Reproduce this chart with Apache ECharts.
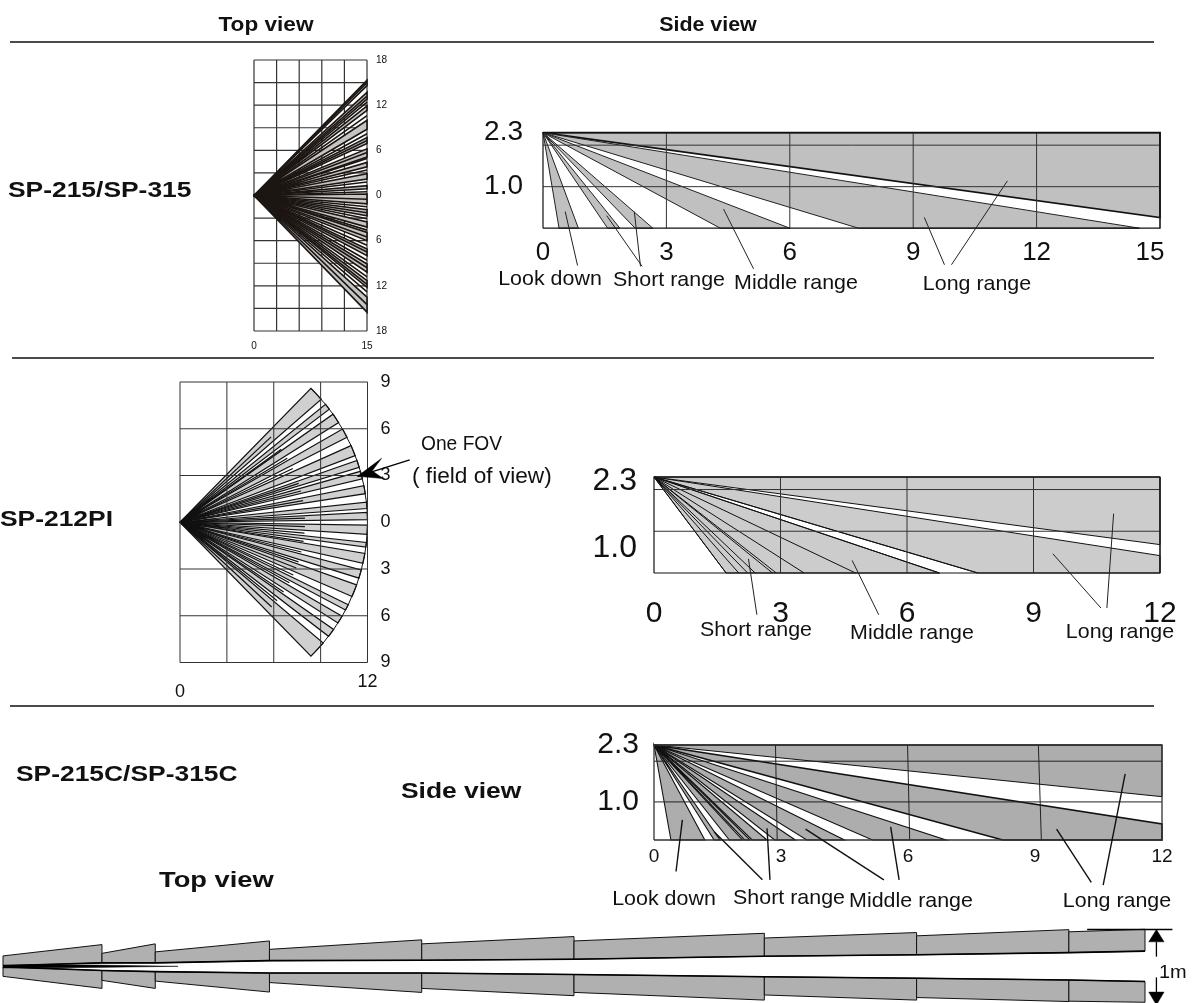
<!DOCTYPE html>
<html><head><meta charset="utf-8">
<style>html,body{margin:0;padding:0;background:#fff}#c{width:1200px;height:1003px}</style>
<script src="https://cdn.jsdelivr.net/npm/echarts@6/dist/echarts.min.js"></script>
</head><body><div id="c"></div>
<script>
// ---------- data (metres) ----------
// SP-215 top view: gray beams, y-range where each hits x = 15
var fanTop215 = [[15.3,14.6],[13.7,12.8],[11.9,11.3],[10,8.8],[7.7,6.9],[6.2,5.1],[4.4,3.8],[2.9,2.2],[1.3,0.9],[0.2,-1.1],[-1.9,-2.7],[-3.5,-4.2],[-4.9,-6],[-7.1,-8],[-9.1,-10.2],[-11.3,-12.2],[-13.5,-15.5]];
var fanRays215 = [15,13.2,12.4,10.6,8.2,7.3,5.7,4.9,3.4,1.8,0.5,-0.5,-1.5,-2.3,-3.1,-4.6,-5.5,-6.6,-7.5,-8.6,-9.6,-10.8,-11.8,-12.8,-14.5];
var fanRayReach215 = 15;
var fanCore215 = [[0,0],[3.5,3.55],[3.5,-3.6]];
// SP-215 side view: floor hits and far-wall hits
var side215Floor = [[0.39,0.86],[1.57,1.87],[2.24,2.67],[4.31,6.0],[7.67,14.5]];
var side215Wall = [[0.256,2.3]];
// SP-212PI top view: gray wedges, angles in degrees
var fan212 = [[45.7,41.1],[39.1,37.2],[35.3,32.2],[29.9,27],[24.2,20.9],[19.3,17.1],[15.8,13.4],[11.3,8.8],[6.2,4.2],[3,0.8],[-0.9,-3.7],[-6.2,-7.6],[-9.6,-12.7],[-14.8,-17.4],[-19.6,-23.4],[-26.2,-28],[-30.2,-32.6],[-35,-37.6],[-40.2,-45.7]];
var fan212Rays = [43.2,35.9,30.9,25.5,18.2,14.5,10,1.9,-2,-5,-8.8,-13.8,-18.5,-21.5,-25,-29,-34,-39,-42.8];
var fan212RayReach = 8;
// SP-212PI side view
var side212Rays = [1.71,2.01,2.22,2.40,2.81,2.90,3.56,4.78,6.77,7.68];
var side212Band = [1.71,6.77];
var side212Long = [7.68,0.416];
var side212Wall = [0.68,2.3];
// SP-215C side view
var side215CFloor = [[0.40,1.20],[1.42,1.56],[1.78,2.09],[2.14,2.27],[2.32,2.67],[2.85,3.34],[3.61,4.50],[5.16,6.90]];
var side215CLong = [8.24,0.495];
var side215CWall = [1.12,2.3];
var side215CFloorY = 0.13;
// SP-215C top view beams
var beamX = [0,1.3,2.0,3.5,5.5,7.5,10,12,14,15];
var upperInner = [0.01,0.05,0.05,0.08,0.085,0.10,0.14,0.16,0.19,0.21];
var upperOuterStart = [0.145,0.18,0.20,0.235,0.31,0.35,0.39,0.42,0.475];
var upperOuterEnd = [0.30,0.31,0.35,0.365,0.41,0.455,0.465,0.505,0.51];
var lowerInner = [-0.005,-0.055,-0.07,-0.09,-0.09,-0.11,-0.14,-0.16,-0.185,-0.205];
var lowerOuterStart = [-0.135,-0.19,-0.20,-0.22,-0.30,-0.355,-0.39,-0.425,-0.475];
var lowerOuterEnd = [-0.30,-0.30,-0.35,-0.355,-0.40,-0.46,-0.46,-0.48,-0.49];
var beamCore = [[0,0.02],[1.2,0.02],[2.3,0.002],[1.2,-0.012],[0,-0.02]];
// leader lines
var leaders215 = [[[0.54,0.4],[0.84,-0.9]],[[1.55,0.3],[2.41,-0.92]],[[2.22,0.4],[2.37,-0.92]],[[4.39,0.46],[5.12,-0.98]],[[9.27,0.26],[9.76,-0.88]],[[11.29,1.14],[9.93,-0.88]]];
var leaders212 = [[[2.24,0.34],[2.44,-1.0]],[[4.7,0.3],[5.33,-1.0]],[[9.46,0.46],[10.6,-0.84]],[[10.9,1.42],[10.74,-0.84]]];
var leaders215C = [[[0.67,0.59],[0.52,-0.59]],[[1.42,0.32],[2.56,-0.78]],[[2.67,0.4],[2.74,-0.78]],[[3.58,0.38],[5.43,-0.78]],[[5.59,0.43],[5.79,-0.78]],[[9.51,0.38],[10.33,-0.84]],[[11.13,1.64],[10.61,-0.9]]];
var slantVerticals215C = [[2.87,2.91],[5.99,6.04],[9.08,9.15]];
var fovArrowLine = [[14.7,4.0],[11.36,2.95]];
var fovArrowHead = [[11.36,2.95],[12.9,4.1],[12.3,3.3],[13.0,2.8]];
var dimTick = [[14.24,0.507],[15.36,0.507]];
var dimUpStem = [[15.15,0.338],[15.15,0.135]];
var dimUpHead = [[15.15,0.507],[15.05,0.338],[15.25,0.338]];
var dimDownStem = [[15.15,-0.149],[15.15,-0.351]];
var dimDownHead = [[15.15,-0.527],[15.05,-0.351],[15.25,-0.351]];
// axis ticks
var ticks215TopY = [-18,-15,-12,-9,-6,-3,0,3,6,9,12,15,18];
var ticks215TopX = [0,3,6,9,12,15];
var ticks212TopY = [-9,-6,-3,3,6,9];
var ticks212TopX = [0,3,6,9,12];
var sideHeights = [1,2,2.3];
var sideHeights215C = [1,1.93,2.3];
var sideLabels = [1,2.3];
var ticksX15 = [3,6,9,12,15];
var ticksX12 = [3,6,9,12];

// ---------- helpers ----------
var FONT = '"Liberation Sans", Arial, sans-serif';
var apexSide = 2.3;
function shapes(grid, name, list, fill, stroke, lw, closed, z) {
  return {
    type:'custom', name:name, coordinateSystem:'cartesian2d', xAxisIndex:grid, yAxisIndex:grid,
    clip:false, silent:true, animation:false, z:z||2,
    encode:{x:0,y:1}, data:list.map(function(p){return [p[0][0],p[0][1]];}),
    renderItem:function(params,api){
      var pts = list[params.dataIndex].map(function(q){return api.coord(q);});
      return {type: closed?'polygon':'polyline', shape:{points:pts},
        style:{fill: closed?fill:null, stroke:stroke, lineWidth:lw}, silent:true};
    }
  };
}
function hLines(x0,x1,ys){return ys.map(function(y){return [[x0,y],[x1,y]];});}
function vLines(y0,y1,xs){return xs.map(function(x){return [[x,y0],[x,y1]];});}
function box(x0,x1,y0,y1){return [[[x0,y0],[x1,y0],[x1,y1],[x0,y1],[x0,y0]]];}
function floorPolys(floor,yf){return floor.map(function(h){return [[0,apexSide],[h[0],yf],[h[1],yf]];});}
function polar(a,r){var t=a*Math.PI/180;return [r*Math.cos(t),r*Math.sin(t)];}

function axis(grid,type,min,max,interval,label,extra){
  var o={type:'value',gridIndex:grid,min:min,max:max,axisLine:{show:false},axisTick:{show:false},splitLine:{show:false},
    axisLabel:Object.assign({fontFamily:FONT,color:'#111',hideOverlap:false,showMinLabel:true,showMaxLabel:true},label)};
  if(interval) o.interval=interval;
  return Object.assign(o,extra||{});
}
var abs=function(v){return String(Math.abs(v));};
var fix1=function(v){return v.toFixed(1);};

var option={
  animation:false, backgroundColor:'#fff',
  grid:[
    {left:254,top:60,width:113,height:271},
    {left:543,top:132.7,width:617,height:95.5},
    {left:180,top:382,width:187.5,height:280.5},
    {left:654,top:477,width:506,height:96},
    {left:654,top:745,width:508,height:95},
    {left:3,top:930,width:1142,height:74}
  ],
  xAxis:[
    axis(0,'x',0,15,15,{fontSize:10,margin:10}),
    axis(1,'x',0,15,3,{fontSize:26,margin:12,formatter:function(v){return v===15?'{r|15}':String(v);},rich:{r:{fontSize:26,fontFamily:FONT,color:'#111',padding:[0,20,0,0]}}}),
    axis(2,'x',0,12,12,{fontSize:18,margin:11,formatter:function(v){return v===0?'{d|0}':String(v);},rich:{d:{fontSize:18,fontFamily:FONT,color:'#111',padding:[10,0,0,0]}}}),
    axis(3,'x',0,12,3,{fontSize:30,margin:26}),
    axis(4,'x',0,12,3,{fontSize:19,margin:7}),
    axis(5,'x',0,15,15,{show:false})
  ],
  yAxis:[
    axis(0,'y',-18,18,6,{fontSize:10,margin:9,padding:[3,0,0,0],formatter:abs},{position:'right'}),
    axis(1,'y',0,2.3,0,{fontSize:28,margin:20,formatter:fix1,customValues:sideLabels}),
    axis(2,'y',-9,9,3,{fontSize:18,margin:13,padding:[11,0,0,0],formatter:abs},{position:'right'}),
    axis(3,'y',0,2.3,0,{fontSize:32,margin:17,formatter:function(v){return v===1?'{l|1.0}':'{t|2.3}';},customValues:sideLabels,
      rich:{l:{fontSize:32,fontFamily:FONT,color:'#111',padding:[34,0,0,0]},t:{fontSize:32,fontFamily:FONT,color:'#111',padding:[8,0,0,0]}}}),
    axis(4,'y',side215CFloorY,2.3,0,{fontSize:30,margin:15,formatter:fix1,customValues:sideLabels}),
    axis(5,'y',-0.5,0.5,1,{show:false})
  ],
  series:[],
  graphic:{elements:[]}
};
var S=option.series;

// ---- SP-215 top view
S.push(shapes(0,'grid215top',hLines(0,15,ticks215TopY).concat(vLines(-18,18,ticks215TopX)),null,'#333',1.2,false,1));
S.push(shapes(0,'fan215',fanTop215.map(function(w){return [[0,0],[15,w[0]],[15,w[1]]];}),'#c4c4c4','#1c1613',1.6,true,2));
S.push(shapes(0,'rays215',fanRays215.map(function(y){return [[0,0],[fanRayReach215,y*fanRayReach215/15]];}),null,'#1c1613',1.6,false,3));
S.push(shapes(0,'core215',[fanCore215],'#1c1613','#1c1613',1,true,3));

// ---- SP-215 side view
S.push(shapes(1,'long215wall',side215Wall.map(function(w){return [[0,apexSide],[15,w[0]],[15,w[1]]];}),'#c0c0c0','#111',1.8,true,2));
S.push(shapes(1,'beams215',floorPolys(side215Floor,0),'#c0c0c0','#222',1,true,2));
S.push(shapes(1,'grid215side',hLines(0,15,sideHeights).concat(vLines(0,2.3,ticksX15)),null,'#333',1,false,3));
S.push(shapes(1,'box215',box(0,15,0,2.3),null,'#111',1.2,false,4));
S.push(shapes(1,'leaders215',leaders215,null,'#222',1,false,5));

// ---- SP-212PI top view
S.push(shapes(2,'fan212',fan212.map(function(w){
  var pts=[[0,0]],i; for(i=0;i<=3;i++){pts.push(polar(w[0]+(w[1]-w[0])*i/3,12));} return pts;
}),'#d0d0d0','#111',1.2,true,2));
S.push(shapes(2,'rays212',fan212Rays.map(function(a){return [[0,0],polar(a,fan212RayReach)];}),null,'#111',1.2,false,3));
S.push(shapes(2,'rim212',[fan212.map(function(w){return polar(w[0],12);}).concat([polar(fan212[fan212.length-1][1],12)])],null,'#111',1,false,3));
S.push(shapes(2,'grid212top',hLines(0,12,ticks212TopY).concat(vLines(-9,9,ticks212TopX)),null,'#333',1,false,4));
S.push(shapes(2,'fovLine',[fovArrowLine],null,'#000',1.3,false,5));
S.push(shapes(2,'fovHead',[fovArrowHead],'#000','#000',0.5,true,5));

// ---- SP-212PI side view
S.push(shapes(3,'band212',[[[0,apexSide],[side212Band[0],0],[side212Band[1],0]]],'#cccccc','#111',1,true,2));
S.push(shapes(3,'long212',[[[0,apexSide],[side212Long[0],0],[12,0],[12,side212Long[1]]]],'#cccccc','#111',1,true,2));
S.push(shapes(3,'wall212',[[[0,apexSide],[12,side212Wall[0]],[12,side212Wall[1]]]],'#cccccc','#111',1,true,2));
S.push(shapes(3,'rays212side',side212Rays.map(function(x){return [[0,apexSide],[x,0]];}),null,'#111',1,false,3));
S.push(shapes(3,'grid212side',hLines(0,12,sideHeights).concat(vLines(0,2.3,ticksX12)),null,'#333',1,false,3));
S.push(shapes(3,'box212',box(0,12,0,2.3),null,'#111',1.2,false,4));
S.push(shapes(3,'leaders212',leaders212,null,'#222',1,false,5));

// ---- SP-215C side view
S.push(shapes(4,'beams215C',floorPolys(side215CFloor,side215CFloorY),'#adadad','#111',1.1,true,2));
S.push(shapes(4,'long215C',[[[0,apexSide],[side215CLong[0],side215CFloorY],[12,side215CFloorY],[12,side215CLong[1]]]],'#adadad','#111',1.6,true,2));
S.push(shapes(4,'wall215C',[[[0,apexSide],[12,side215CWall[0]],[12,side215CWall[1]]]],'#adadad','#111',1,true,2));
S.push(shapes(4,'grid215C',hLines(0,12,sideHeights215C).concat(slantVerticals215C.map(function(v){return [[v[0],2.3],[v[1],side215CFloorY]];})),null,'#222',1,false,3));
S.push(shapes(4,'box215C',box(0,12,side215CFloorY,2.3),null,'#333',1.3,false,4));
S.push(shapes(4,'leaders215C',leaders215C,null,'#111',1.4,false,5));

// ---- SP-215C top view beams
function beamPolys(inner,os,oe){
  return os.map(function(_,i){return [[beamX[i],inner[i]],[beamX[i+1],inner[i+1]],[beamX[i+1],oe[i]],[beamX[i],os[i]]];});
}
S.push(shapes(5,'upperBeams',beamPolys(upperInner,upperOuterStart,upperOuterEnd),'#b0b0b0','#111',1,true,2));
S.push(shapes(5,'lowerBeams',beamPolys(lowerInner,lowerOuterStart,lowerOuterEnd),'#b0b0b0','#111',1,true,2));
S.push(shapes(5,'innerEdges',[
  beamX.map(function(x,i){return [x,upperInner[i]];}),
  beamX.map(function(x,i){return [x,lowerInner[i]];})
],null,'#000',1.6,false,3));
S.push(shapes(5,'beamCore',[beamCore],'#000','#000',0.5,true,3));
S.push(shapes(5,'dimTick',[dimTick,dimUpStem,dimDownStem],null,'#000',1.3,false,3));
S.push(shapes(5,'dimHeads',[dimUpHead,dimDownHead],'#000','#000',0.5,true,3));

// ---- page furniture
function T(x,y,text,size,bold,align,sx){
  return {type:'text',silent:true,z:20,x:x,y:y,scaleX:sx||1,style:{text:text,fontFamily:FONT,fontSize:size,fontWeight:bold?'bold':'normal',fill:'#111',textAlign:align||'left',textVerticalAlign:'middle'}};
}
function rule(x0,x1,y){return {type:'line',silent:true,z:20,shape:{x1:x0,y1:y,x2:x1,y2:y},style:{stroke:'#111',lineWidth:1.6}};}
var W=1.02, B=1.2;
option.graphic.elements=[
  rule(10,1154,42),rule(12,1154,358),rule(10,1154,706),
  T(266,25,'Top view',20,true,'center',1.13),T(708,25,'Side view',20,true,'center',1.07),
  T(8,191,'SP-215/SP-315',22,true,'left',B),T(0,520,'SP-212PI',22,true,'left',B),T(16,775,'SP-215C/SP-315C',22,true,'left',B),
  T(401,792,'Side view',22,true,'left',B),T(159,881,'Top view',22,true,'left',1.24),
  T(421,444,'One FOV',20,false,'left',0.96),T(412,477,'( field of view)',22,false,'left',1.03),
  T(550,279,'Look down',21,false,'center',W),T(669,280,'Short range',21,false,'center',W),T(796,283,'Middle range',21,false,'center',W),T(977,284,'Long range',21,false,'center',W),
  T(756,630,'Short range',21,false,'center',W),T(912,633,'Middle range',21,false,'center',W),T(1120,632,'Long range',21,false,'center',W),
  T(664,899,'Look down',21,false,'center',W),T(789,898,'Short range',21,false,'center',W),T(911,901,'Middle range',21,false,'center',W),T(1117,901,'Long range',21,false,'center',W),
  T(1159,973,'1m',19,false,'left',1.05)
];
echarts.init(document.getElementById('c')).setOption(option);
</script></body></html>
